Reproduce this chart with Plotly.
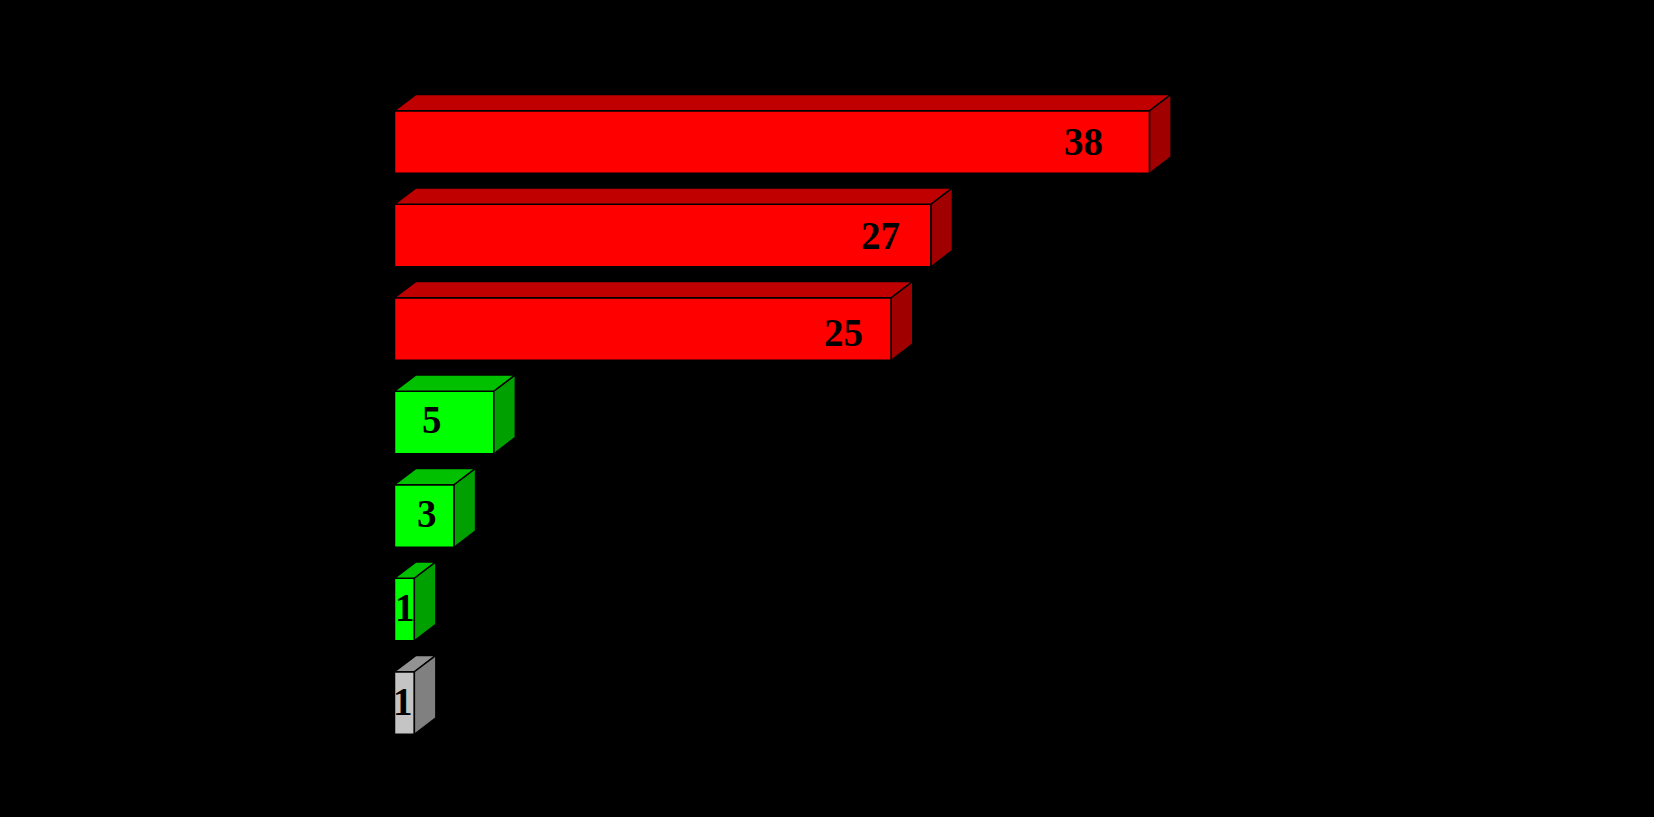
import plotly.graph_objects as go

# Data
values = [38, 27, 25, 5, 3, 1, 1]
positions = [0, 1, 2, 3, 4, 5, 6]
labels = ["38", "27", "25", "5", "3", "1", "1"]
groups = ["red", "red", "red", "green", "green", "green", "grey"]

# Style
front = {"red": "#ff0000", "green": "#00ff00", "grey": "#c4c4c4"}
top = {"red": "#c00000", "green": "#00c000", "grey": "#939393"}
side = {"red": "#a00000", "green": "#00a000", "grey": "#808080"}
label_shift_px = [-66, -50, -48, -62, -27, -9, -11]
label_dy_px = [-1, 0, 3, -3, -3, -2, -2]

W, H = 1654, 817
PX_PER_UNIT = 19.87
ZERO_PX = 394.5
ROW_PX = 93.5
ROW0_PX = 142
BAR_FRAC = 62.5 / ROW_PX
DX = 21.5 / PX_PER_UNIT
DY = 16.3 / ROW_PX
OUTLINE = dict(color="#000000", width=1.5)

fig = go.Figure()

half = BAR_FRAC / 2
for v, p, g in zip(values, positions, groups):
    fig.add_trace(go.Scatter(
        x=[0, DX, v + DX, v, 0], y=[p - half, p - half - DY, p - half - DY, p - half, p - half],
        mode="lines", fill="toself", fillcolor=top[g], line=OUTLINE,
        hoverinfo="skip", showlegend=False))
    fig.add_trace(go.Scatter(
        x=[v, v + DX, v + DX, v, v], y=[p - half, p - half - DY, p + half - DY, p + half, p - half],
        mode="lines", fill="toself", fillcolor=side[g], line=OUTLINE,
        hoverinfo="skip", showlegend=False))

fig.add_trace(go.Bar(
    x=values, y=positions, orientation="h", width=BAR_FRAC,
    marker=dict(color=[front[g] for g in groups], line=OUTLINE),
    showlegend=False))

for v, p, t, sx, sy in zip(values, positions, labels, label_shift_px, label_dy_px):
    fig.add_annotation(
        x=v, y=p, text=f"<b>{t}</b>", showarrow=False, xshift=sx, yshift=-sy,
        font=dict(family="Liberation Serif", size=39, color="#000000"))

fig.update_layout(
    width=W, height=H, margin=dict(l=0, r=0, t=0, b=0),
    paper_bgcolor="#000000", plot_bgcolor="#000000",
    xaxis=dict(range=[-ZERO_PX / PX_PER_UNIT, (W - ZERO_PX) / PX_PER_UNIT],
               visible=False, showgrid=False, zeroline=False),
    yaxis=dict(range=[(H - ROW0_PX) / ROW_PX, -ROW0_PX / ROW_PX],
               visible=False, showgrid=False, zeroline=False),
)

fig.write_html("out.html", config={"displayModeBar": False},
               post_script="document.body.style.margin='0';document.body.style.background='#000';")
